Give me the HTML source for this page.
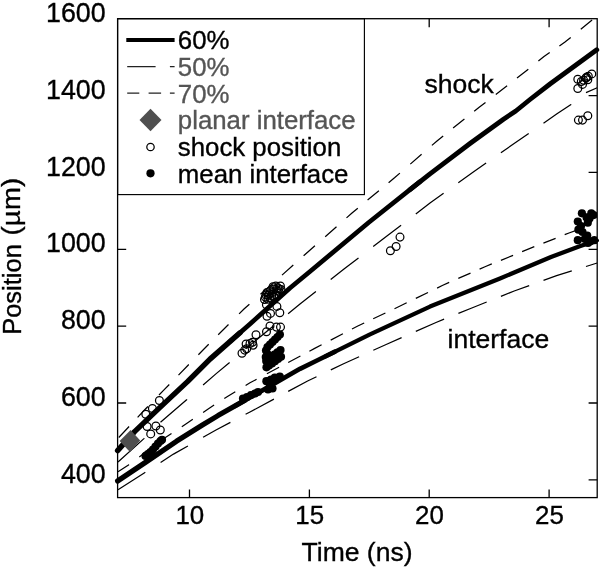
<!DOCTYPE html>
<html lang="en"><head><meta charset="utf-8"><title>Position vs Time</title>
<style>
html,body{margin:0;padding:0;background:#fff;}
body{width:600px;height:569px;overflow:hidden;}
svg{display:block;will-change:transform;}
text{font-family:"Liberation Sans", Arial, Helvetica, sans-serif;fill:#000;stroke:#000;stroke-width:0.35px;}
text.g{fill:#555;stroke:#555;}
</style></head><body>
<svg width="600" height="569" viewBox="0 0 600 569" font-size="26.5">
<rect width="600" height="569" fill="#fff"/>
<defs><clipPath id="cp"><rect x="117.6" y="18.7" width="479.6" height="478.9"/></clipPath></defs>
<g clip-path="url(#cp)">
<g stroke="#000" stroke-width="1.25" fill="none">
<path d="M118.8,437.5 L129.1,426.5 M137.6,417.4 L144.5,410.0 L147.9,406.5 M159.0,395.0 L163.5,390.4 L169.3,384.5 M178.5,375.1 L188.8,364.5 M198.4,354.7 L203.5,349.5 L208.7,344.3 M218.2,334.8 L228.5,324.5 M239.1,313.9 L244.0,309.0 L249.4,304.2 M260.5,294.3 L271.8,284.2 M282.0,275.1 L293.3,265.0 M303.6,255.8 L309.0,251.0 L314.9,245.8 M325.2,236.7 L336.5,226.7 M346.5,217.9 L352.0,213.0 L357.8,208.2 M367.6,200.1 L378.9,190.7 M388.6,182.7 L394.5,177.8 L399.9,173.1 M410.3,164.1 L421.6,154.3 M431.9,145.4 L437.0,141.0 L443.2,136.0 M453.1,128.1 L464.4,119.1 M474.2,111.2 L479.5,107.0 L485.5,102.4 M495.8,94.4 L507.1,85.7 M517.0,78.0 L522.5,73.8 L528.3,69.2 M538.4,61.1 L544.0,56.6 L549.7,52.6 M559.4,45.9 L565.0,42.0 L570.7,37.4 M580.8,29.2 L592.1,20.0"/>
<path d="M118.0,462.0 L144.2,438.4 L144.4,438.2 M160.5,422.2 L186.9,399.5 L187.0,399.4 M203.1,385.0 L216.5,373.4 L229.6,362.4 M245.6,348.8 L246.6,348.0 L273.4,326.0 M288.1,313.8 L300.0,304.1 L315.9,291.4 M330.7,279.6 L344.0,269.0 L358.5,257.9 M373.2,246.5 L386.6,236.3 L401.1,225.2 M415.8,213.9 L430.0,203.0 L443.6,193.3 M458.3,182.8 L474.0,171.6 L486.1,163.1 M500.9,152.8 L514.5,143.3 L528.7,133.4 M543.5,123.2 L557.0,113.8 L571.0,104.6 L571.2,104.4 M586.0,92.6 L597.2,87.8"/>
<path d="M118.0,471.7 L128.5,465.0 L129.0,464.6 M139.3,456.9 L150.3,448.6 M160.5,440.8 L171.5,433.5 M181.8,426.7 L187.0,423.2 L192.8,419.3 M203.1,412.4 L207.8,409.2 L214.1,405.1 M224.3,398.5 L228.7,395.7 L235.3,391.7 M245.6,385.5 L250.0,382.8 L256.6,379.3 M266.9,373.8 L279.1,367.3 M288.2,362.5 L300.4,356.0 M309.4,351.2 L314.7,348.4 L321.6,344.8 M330.7,340.1 L342.9,333.7 M352.0,329.0 L357.8,326.0 L364.2,323.0 M373.2,318.7 L385.4,313.0 M394.5,308.7 L399.6,306.3 L406.7,302.8 M415.8,298.4 L428.0,292.5 M437.1,288.1 L442.3,285.5 L449.2,282.4 M458.3,278.4 L470.5,273.1 M479.6,269.1 L485.0,266.7 L491.8,263.9 M500.9,260.3 L513.1,255.3 M522.1,251.6 L527.6,249.4 L534.3,246.7 M543.4,243.1 L555.6,238.3 M564.7,234.7 L569.0,233.0 L576.9,230.2"/>
<path d="M118.0,489.7 L145.0,472.5 L145.3,472.3 M160.6,462.5 L173.5,454.1 L187.9,446.0 M203.1,437.3 L216.0,430.0 L230.4,422.4 M245.6,414.3 L250.0,412.0 L273.9,399.1 M288.2,391.4 L307.6,381.0 L316.5,376.7 M330.8,369.9 L343.6,363.8 L359.1,356.8 M373.3,350.3 L386.7,344.2 L401.6,337.6 M415.8,331.4 L436.0,322.5 L444.1,319.2 M458.4,313.4 L471.8,308.0 L486.7,302.0 M500.9,296.3 L514.2,291.0 L529.2,285.6 M543.5,280.4 L556.6,275.7 L571.8,270.9 M586.0,266.5 L597.2,263.0"/>
</g>
</g>
<polyline points="117.6,450.6 134.6,431.6 160.0,407.4 187.5,381.6 210.0,359.1 240.0,332.8" stroke="#000" stroke-width="5.4" fill="none" stroke-linejoin="round" stroke-linecap="round"/>
<polyline points="230.0,341.6 250.0,324.0 290.0,288.0 310.0,271.5 368.7,222.5 420.0,181.7" stroke="#000" stroke-width="4.7" fill="none" stroke-linejoin="round" stroke-linecap="round"/>
<polyline points="410.0,189.7 430.0,173.8 470.0,143.5 503.5,119.2 515.8,111.0 530.0,99.5 550.0,84.0 596.8,49.8" stroke="#000" stroke-width="4.8" fill="none" stroke-linejoin="round" stroke-linecap="round"/>
<polyline points="117.6,481.0 146.0,462.0 176.4,441.3 202.0,425.3 218.0,415.6 245.0,400.3" stroke="#000" stroke-width="5.2" fill="none" stroke-linejoin="round" stroke-linecap="round"/>
<polyline points="235.0,406.0 250.0,397.5 300.0,368.8 318.0,360.0 335.0,351.6" stroke="#000" stroke-width="4.7" fill="none" stroke-linejoin="round" stroke-linecap="round"/>
<polyline points="325.0,356.6 370.0,334.4 430.0,306.6 500.0,278.5 551.0,257.0 579.0,246.5 596.8,240.4" stroke="#000" stroke-width="4.3" fill="none" stroke-linejoin="round" stroke-linecap="round"/>
<g clip-path="url(#cp)">
<polygon points="119.6,441.1 130.6,429.9 140.2,440.6 130,451.9" fill="#4f4f4f"/>
<g fill="none" stroke="#000" stroke-width="1.25">
<circle cx="145.8" cy="414.2" r="3.9"/>
<circle cx="152.4" cy="408.5" r="3.9"/>
<circle cx="159.4" cy="400.5" r="3.9"/>
<circle cx="150.7" cy="433.9" r="3.9"/>
<circle cx="155.9" cy="426.0" r="3.9"/>
<circle cx="160.3" cy="430.0" r="3.9"/>
<circle cx="147.1" cy="426.5" r="3.9"/>
<circle cx="265.3" cy="297.1" r="3.9"/>
<circle cx="268.2" cy="295.3" r="3.9"/>
<circle cx="271.7" cy="295.9" r="3.9"/>
<circle cx="275.8" cy="294.8" r="3.9"/>
<circle cx="267.0" cy="292.4" r="3.9"/>
<circle cx="270.5" cy="290.7" r="3.9"/>
<circle cx="274.0" cy="288.9" r="3.9"/>
<circle cx="277.5" cy="287.8" r="3.9"/>
<circle cx="280.4" cy="286.0" r="3.9"/>
<circle cx="281.0" cy="289.5" r="3.9"/>
<circle cx="278.1" cy="291.3" r="3.9"/>
<circle cx="275.8" cy="286.0" r="3.9"/>
<circle cx="272.5" cy="292.5" r="3.9"/>
<circle cx="269.5" cy="293.8" r="3.9"/>
<circle cx="276.5" cy="290.5" r="3.9"/>
<circle cx="273.0" cy="286.8" r="3.9"/>
<circle cx="279.0" cy="288.8" r="3.9"/>
<circle cx="266.0" cy="295.0" r="3.9"/>
<circle cx="270.0" cy="297.5" r="3.9"/>
<circle cx="274.0" cy="297.0" r="3.9"/>
<circle cx="264.5" cy="299.5" r="3.9"/>
<circle cx="268.0" cy="299.2" r="3.9"/>
<circle cx="266.4" cy="304.7" r="3.9"/>
<circle cx="276.9" cy="306.4" r="3.9"/>
<circle cx="279.8" cy="312.8" r="3.9"/>
<circle cx="267.0" cy="316.3" r="3.9"/>
<circle cx="270.5" cy="313.4" r="3.9"/>
<circle cx="270.0" cy="325.9" r="3.9"/>
<circle cx="276.4" cy="327.1" r="3.9"/>
<circle cx="280.5" cy="327.1" r="3.9"/>
<circle cx="266.5" cy="331.8" r="3.9"/>
<circle cx="256.0" cy="334.7" r="3.9"/>
<circle cx="252.5" cy="342.3" r="3.9"/>
<circle cx="246.1" cy="344.0" r="3.9"/>
<circle cx="253.1" cy="345.2" r="3.9"/>
<circle cx="246.7" cy="348.7" r="3.9"/>
<circle cx="242.0" cy="353.3" r="3.9"/>
<circle cx="244.7" cy="350.1" r="3.9"/>
<circle cx="250.0" cy="343.5" r="3.9"/>
<circle cx="390.4" cy="250.7" r="3.9"/>
<circle cx="396.1" cy="246.5" r="3.9"/>
<circle cx="400.0" cy="237.1" r="3.9"/>
<circle cx="577.8" cy="79.2" r="3.9"/>
<circle cx="577.8" cy="88.5" r="3.9"/>
<circle cx="581.3" cy="81.5" r="3.9"/>
<circle cx="582.5" cy="84.4" r="3.9"/>
<circle cx="586.0" cy="78.0" r="3.9"/>
<circle cx="588.3" cy="76.3" r="3.9"/>
<circle cx="587.8" cy="79.8" r="3.9"/>
<circle cx="591.8" cy="73.9" r="3.9"/>
<circle cx="586.5" cy="77.2" r="3.9"/>
<circle cx="583.6" cy="80.2" r="3.9"/>
<circle cx="578.4" cy="120.1" r="3.9"/>
<circle cx="582.5" cy="120.1" r="3.9"/>
<circle cx="587.8" cy="115.8" r="3.9"/>
</g><g fill="#000">
<circle cx="146.3" cy="455.6" r="4.1"/>
<circle cx="148.5" cy="457.2" r="4.1"/>
<circle cx="151.0" cy="455.2" r="4.1"/>
<circle cx="145.5" cy="456.0" r="4.1"/>
<circle cx="148.0" cy="454.0" r="4.1"/>
<circle cx="150.5" cy="452.0" r="4.1"/>
<circle cx="153.0" cy="449.5" r="4.1"/>
<circle cx="155.5" cy="446.5" r="4.1"/>
<circle cx="158.0" cy="443.5" r="4.1"/>
<circle cx="160.5" cy="441.0" r="4.1"/>
<circle cx="162.0" cy="439.8" r="4.1"/>
<circle cx="279.9" cy="334.5" r="4.1"/>
<circle cx="277.5" cy="337.0" r="4.1"/>
<circle cx="275.0" cy="339.5" r="4.1"/>
<circle cx="272.5" cy="342.0" r="4.1"/>
<circle cx="270.0" cy="344.5" r="4.1"/>
<circle cx="267.5" cy="347.0" r="4.1"/>
<circle cx="266.0" cy="350.5" r="4.1"/>
<circle cx="267.5" cy="354.0" r="4.1"/>
<circle cx="265.8" cy="357.0" r="4.1"/>
<circle cx="280.5" cy="350.0" r="4.1"/>
<circle cx="277.5" cy="352.3" r="4.1"/>
<circle cx="274.5" cy="354.6" r="4.1"/>
<circle cx="271.5" cy="356.9" r="4.1"/>
<circle cx="268.5" cy="359.2" r="4.1"/>
<circle cx="266.2" cy="361.0" r="4.1"/>
<circle cx="281.0" cy="356.8" r="4.1"/>
<circle cx="278.0" cy="359.0" r="4.1"/>
<circle cx="275.0" cy="361.2" r="4.1"/>
<circle cx="272.0" cy="363.4" r="4.1"/>
<circle cx="269.0" cy="365.6" r="4.1"/>
<circle cx="266.5" cy="367.3" r="4.1"/>
<circle cx="243.0" cy="398.5" r="4.1"/>
<circle cx="247.0" cy="397.0" r="4.1"/>
<circle cx="251.0" cy="395.0" r="4.1"/>
<circle cx="255.0" cy="393.5" r="4.1"/>
<circle cx="258.0" cy="392.0" r="4.1"/>
<circle cx="268.0" cy="381.7" r="4.1"/>
<circle cx="268.0" cy="389.5" r="4.1"/>
<circle cx="272.5" cy="388.5" r="4.1"/>
<circle cx="274.8" cy="377.7" r="4.1"/>
<circle cx="279.8" cy="376.7" r="4.1"/>
<circle cx="266.4" cy="381.2" r="4.1"/>
<circle cx="271.0" cy="379.5" r="4.1"/>
<circle cx="270.0" cy="385.0" r="4.1"/>
<circle cx="581.9" cy="213.3" r="4.1"/>
<circle cx="591.3" cy="213.3" r="4.1"/>
<circle cx="593.6" cy="215.1" r="4.1"/>
<circle cx="586.6" cy="217.4" r="4.1"/>
<circle cx="577.8" cy="221.5" r="4.1"/>
<circle cx="587.8" cy="222.7" r="4.1"/>
<circle cx="578.4" cy="229.7" r="4.1"/>
<circle cx="582.5" cy="232.0" r="4.1"/>
<circle cx="577.8" cy="240.2" r="4.1"/>
<circle cx="584.8" cy="239.0" r="4.1"/>
<circle cx="590.7" cy="241.3" r="4.1"/>
<circle cx="594.5" cy="240.2" r="4.1"/>
<circle cx="587.2" cy="235.5" r="4.1"/>
<circle cx="588.0" cy="243.0" r="4.1"/>
<circle cx="589.5" cy="218.5" r="4.1"/>
<circle cx="581.0" cy="226.0" r="4.1"/>
</g>
</g>
<rect x="117.6" y="18.7" width="246.8" height="175.9" fill="#fff" stroke="#000" stroke-width="1.15"/>
<line x1="126.3" y1="39.9" x2="174.6" y2="39.9" stroke="#000" stroke-width="4"/>
<path d="M127.2,66.6H155.6M169.9,66.6H174.6M127.2,93.2H139.3M148.6,93.2H161.1M169.9,93.2H174.6" stroke="#222" stroke-width="1.25" fill="none"/>
<polygon points="139.5,120 150.5,108.8 161.5,120 150.5,131.2" fill="#4f4f4f"/>
<circle cx="150.5" cy="147" r="3.7" fill="#fff" stroke="#000" stroke-width="1.25"/>
<circle cx="150.5" cy="173.3" r="4.1" fill="#000"/>
<g font-size="25.8">
<text x="177.8" y="49.2">60%</text>
<text x="177.8" y="76.0" class="g">50%</text>
<text x="177.8" y="102.7" class="g">70%</text>
<text x="177.8" y="129.3" class="g">planar interface</text>
<text x="177.8" y="156.1">shock position</text>
<text x="177.8" y="182.7">mean interface</text>
</g>
<rect x="117.6" y="18.7" width="479.6" height="478.9" fill="none" stroke="#000" stroke-width="1.3"/>
<path d="M597.2,95.6h-8.6 M597.2,172.4h-8.6 M117.6,249.3h8.6 M597.2,249.3h-8.6 M117.6,326.1h8.6 M597.2,326.1h-8.6 M117.6,403.0h8.6 M597.2,403.0h-8.6 M597.2,479.9h-8.6 M189.5,497.6v-8.2 M309.4,497.6v-8.2 M429.2,497.6v-8.2 M429.2,18.7v8.6 M549.1,497.6v-8.2 M549.1,18.7v8.6" stroke="#000" stroke-width="1.3" fill="none"/>
<text x="105.7" y="21.8" text-anchor="end" font-size="26.8">1600</text>
<text x="105.7" y="98.7" text-anchor="end" font-size="26.8">1400</text>
<text x="105.7" y="175.5" text-anchor="end" font-size="26.8">1200</text>
<text x="105.7" y="252.4" text-anchor="end" font-size="26.8">1000</text>
<text x="105.7" y="329.2" text-anchor="end" font-size="26.8">800</text>
<text x="105.7" y="406.1" text-anchor="end" font-size="26.8">600</text>
<text x="105.7" y="483.0" text-anchor="end" font-size="26.8">400</text>
<text x="189.8" y="523.6" text-anchor="middle" font-size="25.9">10</text>
<text x="309.7" y="523.6" text-anchor="middle" font-size="25.9">15</text>
<text x="429.5" y="523.6" text-anchor="middle" font-size="25.9">20</text>
<text x="549.4" y="523.6" text-anchor="middle" font-size="25.9">25</text>
<text x="357" y="560.7" text-anchor="middle">Time (ns)</text>
<text transform="translate(20.8,334.8) rotate(-90) scale(1,1.04)" font-size="25.5">Position</text>
<text transform="translate(20.2,177.6) rotate(-90) scale(1,0.93)" text-anchor="end" font-size="27.6" letter-spacing="0.15">(µm)</text>
<text x="424.5" y="93">shock</text>
<text x="447.5" y="347.6">interface</text>
</svg>
</body></html>
